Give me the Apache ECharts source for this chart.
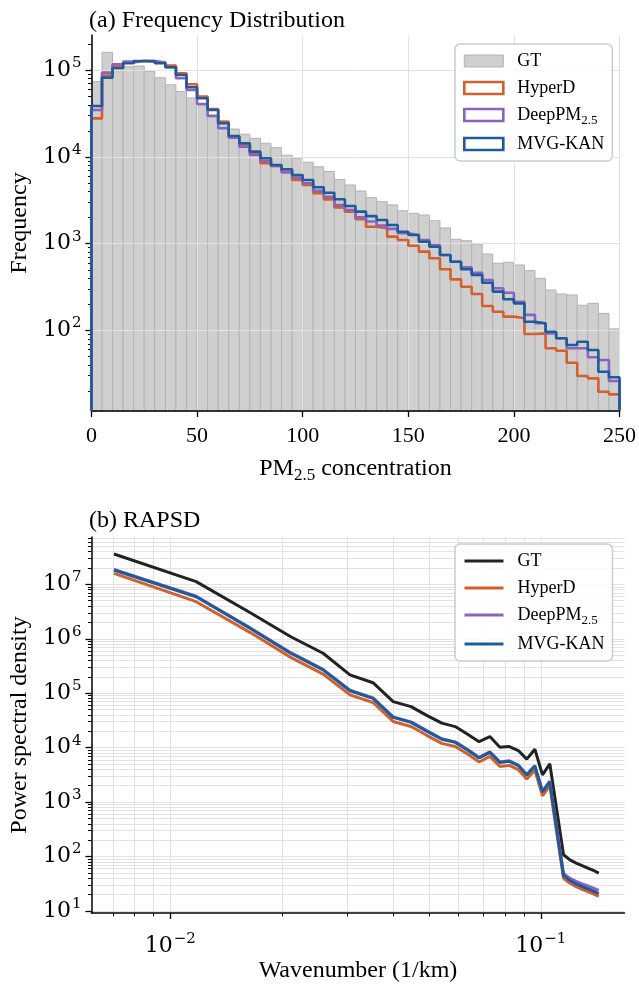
<!DOCTYPE html>
<html><head><meta charset="utf-8">
<script src="https://cdn.jsdelivr.net/npm/echarts@6/dist/echarts.min.js"></script>
<style>html,body{margin:0;padding:0;background:#fff}#c{width:639px;height:988px}</style>
</head><body><div id="c"></div>
<script>
// ---------- (a) Frequency distribution ----------
const binEdges = [0,5,10,15,20,25,30,35,40,45,50,55,60,65,70,75,80,85,90,95,100,105,110,115,120,125,130,135,140,145,150,155,160,165,170,175,180,185,190,195,200,205,210,215,220,225,230,235,240,245,250];
const concTicks = [0,50,100,150,200,250];
const histDecades = [1e2,1e3,1e4,1e5];
const gtCounts = [74000,161000,96000,110000,112000,97000,82000,68000,57000,48000,39000,30500,26000,21000,18300,16400,14400,12800,10500,9700,8700,7700,6800,5500,4750,4050,3400,3050,2800,2400,2240,2140,1840,1520,1125,1084,991,760,594,610,568,489,398,292,263,256,195,205,157,104];
const hyperdCounts = [27900,87100,110900,123000,127900,125900,123300,113000,92300,68900,49700,35800,25500,17200,14000,10700,8450,7870,6760,5430,4760,3810,3240,2620,2340,1910,1570,1510,1205,1104,948,809,679,507,388,319,263,191,164,144,138,90.8,92.5,62.2,58.3,42.4,29.8,28.0,19.6,18.3];
const deeppmCounts = [34800,93800,117200,125600,127900,127900,121600,108400,80900,59300,40800,29700,21430,16710,13150,10540,8990,7870,6650,5770,4980,4080,3480,2790,2450,2010,1800,1620,1480,1320,1259,1104,966,741,619,535,463,381,306,272,214,151,121,92.5,81.1,62.2,62.2,49.0,45.6,26.1];
const mvgkanCounts = [38700,82200,105400,120500,127900,127900,120500,108400,88300,63700,47500,34800,24500,17460,14390,11510,9660,8090,7210,6190,5430,4470,3870,3250,2720,2340,2080,1875,1645,1374,1259,1054,923,741,619,507,436,355,280,229,205,126,121,96.6,81.1,67.9,74.1,59.4,33.4,28.8];

// ---------- (b) RAPSD ----------
const psdDecades = [1e1,1e2,1e3,1e4,1e5,1e6,1e7];
const waveDecades = [0.01,0.1];
const wavenumbers = [0.00705,0.01175,0.01645,0.02115,0.02585,0.03055,0.03525,0.03995,0.04465,0.04935,0.05405,0.05875,0.06345,0.06815,0.07285,0.07755,0.08225,0.08695,0.09165,0.09635,0.10105,0.10575,0.11045,0.11515,0.11985,0.12455,0.12925,0.13395,0.13865,0.14335];
const gtPsd = [3.6e7,1.12e7,3.01e6,1.09e6,5.42e5,2.17e5,1.56e5,7.0e4,5.68e4,3.88e4,2.82e4,2.44e4,1.77e4,1.29e4,1.60e4,1.02e4,1.05e4,8850,6150,9380,3170,5050,710,108,87,76,68,61.5,55.6,49.8];
const hyperdPsd = [1.59e7,4.80e6,1.30e6,4.56e5,2.25e5,9.35e4,6.75e4,3.03e4,2.45e4,1.67e4,1.20e4,1.05e4,7640,5460,6900,4510,4730,3950,2660,3860,1300,1990,265,39.8,32.4,28.1,25.1,22.8,20.6,18.5];
const deeppmPsd = [1.87e7,6.05e6,1.58e6,5.55e5,2.74e5,1.14e5,8.2e4,3.68e4,2.98e4,2.04e4,1.46e4,1.28e4,9290,6640,8390,5480,5750,4810,3230,4700,1590,2420,330,49.0,39.8,35.1,31.6,28.8,26.3,23.9];
const mvgkanPsd = [1.83e7,5.92e6,1.55e6,5.42e5,2.68e5,1.11e5,8.02e4,3.6e4,2.91e4,1.99e4,1.43e4,1.25e4,9080,6490,8200,5360,5620,4700,3160,4590,1550,2360,309,45.0,36.4,31.6,28.2,25.6,23.2,20.8];

// ---------- styling ----------
const FONT = 'Liberation Serif';
const MATH = 'DejaVu Serif';
const COL = {gt:'#222222', hyperd:'#d1602c', deeppm:'#8b62c2', mvgkan:'#1e5b99', bar:'#cfcfcf', barEdge:'#b3b3b3', grid:'#e2e2e2'};
const HIST_YMIN = 11.76, HIST_YMAX = 2.55e5;
const PSD_YMIN = 9.2, PSD_YMAX = 7.4e7;
const PSD_XMIN = 0.006129, PSD_XMAX = 0.1682;

function stepPoints(counts, floor) {
  const pts = [[binEdges[0], floor]];
  for (let i = 0; i < counts.length; i++) {
    pts.push([binEdges[i], counts[i]]);
    pts.push([binEdges[i + 1], counts[i]]);
  }
  pts.push([binEdges[binEdges.length - 1], floor]);
  return pts;
}
function pairs(xs, ys) { return xs.map((x, i) => [x, ys[i]]); }
function powLabel(v) {
  const l = Math.log10(v), e = Math.round(l);
  if (Math.abs(l - e) > 1e-6) return '';
  return '{b|10}{s|' + (e < 0 ? '\u2212' + (-e) : String(e)) + '}';
}
const powRich = {
  b: {fontFamily: MATH, fontSize: 22, color: '#000'},
  s: {fontFamily: MATH, fontSize: 15, color: '#000', padding: [0, 0, 14, 1]}
};
const axisLineStyle = {show: true, lineStyle: {color: '#000', width: 1.5}};
const majorTick = {show: true, inside: false, length: 6, lineStyle: {color: '#000', width: 1.3}};
function decadeTick(vals) { return Object.assign({}, majorTick, {customValues: vals}); }
const minorTick = {show: true, splitNumber: 9, length: 3.5, lineStyle: {color: '#000', width: 1}};
const nameStyle = {fontFamily: FONT, fontSize: 24, color: '#000', rich: {sub: {fontFamily: FONT, fontSize: 17, color: '#000', padding: [14, 0, 0, 0]}}};

function renderBar(params, api) {
  const a = api.coord([api.value(0), api.value(2)]);
  const b = api.coord([api.value(1), api.value(2)]);
  const cs = params.coordSys;
  const bottom = cs.y + cs.height;
  return {type: 'rect', shape: {x: a[0], y: a[1], width: b[0] - a[0], height: bottom - a[1]},
          style: {fill: COL.bar, stroke: COL.barEdge, lineWidth: 1}};
}

const legendText = {
  fontFamily: FONT, fontSize: 18, color: '#000', lineHeight: 20, padding: [0, 0, 0, 9],
  rich: {sub: {fontFamily: FONT, fontSize: 13, color: '#000', padding: [11, 0, 0, 0]}}
};
function legendFormatter(name) {
  const n = name.replace(/-b$/, '');
  return n === 'DeepPM2.5' ? 'DeepPM{sub|2.5}' : n;
}
const legendBox = {
  orient: 'vertical', left: 455, itemWidth: 39, itemHeight: 12, itemGap: 7,
  padding: [7, 8, 7, 8], backgroundColor: 'rgba(255,255,255,0.85)', borderColor: '#cccccc',
  borderWidth: 1.5, borderRadius: 5, textStyle: legendText, formatter: legendFormatter,
  selectedMode: false, z: 10
};

const chart = echarts.init(document.getElementById('c'), null, {renderer: 'canvas'});
const option = {
  animation: false,
  backgroundColor: '#fff',
  title: [
    {text: '(a) Frequency Distribution', left: 89, top: 9, padding: 0,
     textStyle: {fontFamily: FONT, fontSize: 24, fontWeight: 'normal', color: '#000'}},
    {text: '(b) RAPSD', left: 89, top: 509, padding: 0,
     textStyle: {fontFamily: FONT, fontSize: 24, fontWeight: 'normal', color: '#000'}}
  ],
  grid: [
    {left: 91, right: 16, top: 35, height: 376},
    {left: 91, right: 14.5, top: 537, height: 376}
  ],
  legend: [
    Object.assign({}, legendBox, {top: 44, data: [
      {name: 'GT', icon: 'rect', itemStyle: {color: COL.bar, borderColor: COL.barEdge, borderWidth: 1}},
      {name: 'HyperD', icon: 'rect', itemStyle: {color: '#fff', borderColor: COL.hyperd, borderWidth: 2.6}},
      {name: 'DeepPM2.5', icon: 'rect', itemStyle: {color: '#fff', borderColor: COL.deeppm, borderWidth: 2.6}},
      {name: 'MVG-KAN', icon: 'rect', itemStyle: {color: '#fff', borderColor: COL.mvgkan, borderWidth: 2.6}}
    ]}),
    Object.assign({}, legendBox, {top: 544, itemHeight: 14, itemStyle: {opacity: 0}, lineStyle: {width: 3},
      data: ['GT-b', 'HyperD-b', 'DeepPM2.5-b', 'MVG-KAN-b']})
  ],
  xAxis: [
    {gridIndex: 0, type: 'value', min: concTicks[0], max: concTicks[concTicks.length - 1], interval: 50, z: 3,
     name: 'PM{sub|2.5} concentration', nameLocation: 'middle', nameGap: 42, nameTextStyle: nameStyle,
     axisLine: axisLineStyle, axisTick: majorTick,
     axisLabel: {fontFamily: FONT, fontSize: 22, color: '#000', margin: 14},
     splitLine: {show: true, lineStyle: {color: COL.grid, width: 1}}},
    {gridIndex: 1, type: 'log', logBase: 10, min: PSD_XMIN, max: PSD_XMAX,
     name: 'Wavenumber (1/km)', nameLocation: 'middle', nameGap: 45, nameTextStyle: nameStyle,
     axisLine: axisLineStyle, axisTick: decadeTick(waveDecades), minorTick: minorTick,
     axisLabel: {formatter: powLabel, rich: powRich, margin: 19, customValues: waveDecades},
     splitLine: {show: true, lineStyle: {color: COL.grid, width: 1}},
     minorSplitLine: {show: true, lineStyle: {color: COL.grid, width: 1}}}
  ],
  yAxis: [
    {gridIndex: 0, type: 'log', logBase: 10, min: HIST_YMIN, max: HIST_YMAX, z: 3,
     name: 'Frequency', nameLocation: 'middle', nameGap: 55, nameTextStyle: nameStyle,
     axisLine: axisLineStyle, axisTick: decadeTick(histDecades), minorTick: minorTick,
     axisLabel: {formatter: powLabel, rich: powRich, margin: 10, customValues: histDecades},
     splitLine: {show: true, lineStyle: {color: COL.grid, width: 1}}},
    {gridIndex: 1, type: 'log', logBase: 10, min: PSD_YMIN, max: PSD_YMAX,
     name: 'Power spectral density', nameLocation: 'middle', nameGap: 55, nameTextStyle: nameStyle,
     axisLine: axisLineStyle, axisTick: decadeTick(psdDecades), minorTick: minorTick,
     axisLabel: {formatter: powLabel, rich: powRich, margin: 10, customValues: psdDecades},
     splitLine: {show: true, lineStyle: {color: COL.grid, width: 1}},
     minorSplitLine: {show: true, lineStyle: {color: COL.grid, width: 1}}}
  ],
  series: [
    {type: 'custom', name: 'GT', xAxisIndex: 0, yAxisIndex: 0, z: 1, renderItem: renderBar,
     encode: {x: [0, 1], y: 2}, itemStyle: {color: COL.bar},
     data: gtCounts.map((v, i) => [binEdges[i], binEdges[i + 1], v])},
    {type: 'line', name: 'HyperD', xAxisIndex: 0, yAxisIndex: 0, z: 5, symbol: 'none', clip: true,
     data: stepPoints(hyperdCounts, HIST_YMIN), lineStyle: {color: COL.hyperd, width: 2.6}, itemStyle: {color: COL.hyperd}},
    {type: 'line', name: 'DeepPM2.5', xAxisIndex: 0, yAxisIndex: 0, z: 5, symbol: 'none', clip: true,
     data: stepPoints(deeppmCounts, HIST_YMIN), lineStyle: {color: COL.deeppm, width: 2.6}, itemStyle: {color: COL.deeppm}},
    {type: 'line', name: 'MVG-KAN', xAxisIndex: 0, yAxisIndex: 0, z: 5, symbol: 'none', clip: true,
     data: stepPoints(mvgkanCounts, HIST_YMIN), lineStyle: {color: COL.mvgkan, width: 2.6}, itemStyle: {color: COL.mvgkan}},

    {type: 'line', name: 'GT-b', xAxisIndex: 1, yAxisIndex: 1, z: 5, symbol: 'none',
     data: pairs(wavenumbers, gtPsd), lineStyle: {color: COL.gt, width: 3}, itemStyle: {color: COL.gt}},
    {type: 'line', name: 'HyperD-b', xAxisIndex: 1, yAxisIndex: 1, z: 5, symbol: 'none',
     data: pairs(wavenumbers, hyperdPsd), lineStyle: {color: COL.hyperd, width: 3}, itemStyle: {color: COL.hyperd}},
    {type: 'line', name: 'DeepPM2.5-b', xAxisIndex: 1, yAxisIndex: 1, z: 5, symbol: 'none',
     data: pairs(wavenumbers, deeppmPsd), lineStyle: {color: COL.deeppm, width: 3}, itemStyle: {color: COL.deeppm}},
    {type: 'line', name: 'MVG-KAN-b', xAxisIndex: 1, yAxisIndex: 1, z: 5, symbol: 'none',
     data: pairs(wavenumbers, mvgkanPsd), lineStyle: {color: COL.mvgkan, width: 3}, itemStyle: {color: COL.mvgkan}}
  ]
};
chart.setOption(option);
</script>
</body></html>
